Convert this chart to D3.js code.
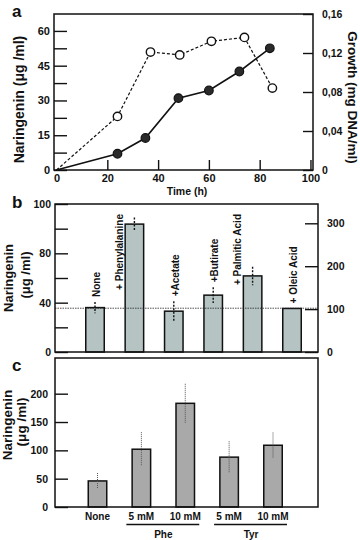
<!DOCTYPE html>
<html>
<head>
<meta charset="utf-8">
<script src="https://cdn.jsdelivr.net/npm/d3@7"></script>
<style>
body { margin: 0; background: #fff; }
svg text { font-family: "Liberation Sans", Arial, Helvetica, sans-serif; font-weight: bold; fill: #111; }
</style>
</head>
<body>
<div id="chart"></div>
<script>
// panel a - time course
var timeH = [0, 24, 35, 48, 60, 72, 84];
var naringenin = [0, 7, 13.8, 31, 34.3, 42.5, 52.5];
var growthTimeH = [0, 24, 37, 48.5, 61, 74, 85];
var growth = [0, 0.055, 0.121, 0.118, 0.132, 0.136, 0.084];
var timeTicks = [0, 20, 40, 60, 80, 100];
var narTicksA = [0, 15, 30, 45, 60];
var growthTicks = [0, 0.04, 0.08, 0.12, 0.16];

// panel b - supplements
var supplements = ["None", "+ Phenylalanine", "+Acetate", "+Butirate", "+ Palmitic Acid", "+ Oleic Acid"];
var supNaringenin = [36, 103.7, 33.1, 46.1, 61.7, 35.3];
var supError = [4.5, 5.4, 8, 6.3, 7.5, 0];
var controlLevel = 35.5;
var narTicksB = [0, 40, 80, 120];
var narTickLabelsB = ["0", "40", "80", "100"];
var percentTicks = [0, 100, 200, 300];

// panel c - amino acid doses
var doses = ["None", "5 mM", "10 mM", "5 mM", "10 mM"];
var doseNaringenin = [46, 102, 183, 88, 109];
var doseError = [14, 30, 34.5, 28, 22.5];
var doseGroups = [{name: "Phe", first: 1, last: 2}, {name: "Tyr", first: 3, last: 4}];
var narTicksC = [0, 50, 100, 150, 200];

var svg = d3.select("#chart").append("svg")
    .attr("width", 360)
    .attr("height", 540);

function frame(x0, y0, x1, y1) {
    svg.append("rect")
        .attr("x", x0).attr("y", y0)
        .attr("width", x1 - x0).attr("height", y1 - y0)
        .attr("fill", "none")
        .attr("stroke", "#111")
        .attr("stroke-width", 1.5);
}

function styleAxis(g, size) {
    g.select(".domain").remove();
    g.selectAll(".tick line").attr("stroke", "#111").attr("stroke-width", 1.4);
    g.selectAll("text").style("font-size", size + "px").attr("fill", "#111");
}

function panelLetter(t, x, y) {
    svg.append("text").attr("x", x).attr("y", y)
        .style("font-size", "17px").text(t);
}

function yLabel(lines, y, size) {
    lines.forEach(function(l, i) {
        svg.append("text")
            .attr("transform", "translate(" + l.x + "," + y[i] + ")rotate(-90)")
            .attr("text-anchor", "middle")
            .style("font-size", size + "px")
            .text(l.t);
    });
}

// ---------- panel a ----------
var aL = 54, aR = 313, aTop = 14, aBot = 170;
var xa = d3.scaleLinear().domain([-1, 101]).range([aL, aR]);
var ya = d3.scaleLinear().domain([0, 67.3]).range([aBot, aTop]);
var ga = d3.scaleLinear().domain([0, 0.16]).range([aBot, aTop]);

frame(aL, aTop, aR, aBot);

var axA = svg.append("g")
    .attr("transform", "translate(" + aL + ",0)")
    .call(d3.axisLeft(ya)
        .tickValues(d3.range(0, 61, 7.5))
        .tickSize(-13)
        .tickPadding(4)
        .tickFormat(function(d) { return d % 15 === 0 ? d : ""; }));
styleAxis(axA, 11);

var axG = svg.append("g")
    .attr("transform", "translate(" + aR + ",0)")
    .call(d3.axisRight(ga)
        .tickValues(growthTicks)
        .tickSize(-10)
        .tickPadding(9)
        .tickFormat(function(d) { return d === 0 ? "0" : d3.format(".2f")(d).replace(".", ","); }));
styleAxis(axG, 10.5);

var axT = svg.append("g")
    .attr("transform", "translate(0," + aBot + ")")
    .call(d3.axisBottom(xa)
        .tickValues(timeTicks)
        .tickSize(-10)
        .tickPadding(4));
styleAxis(axT, 11);
axT.selectAll(".tick").filter(function(d) { return d === 0; }).select("line").remove();

svg.append("text")
    .attr("x", 187).attr("y", 195)
    .attr("text-anchor", "middle")
    .style("font-size", "10.5px")
    .text("Time (h)");

yLabel([{t: "Naringenin (\u03bcg /ml)", x: 24}], [99.5], 14);

svg.append("text")
    .attr("transform", "translate(348,97.5)rotate(90)")
    .attr("text-anchor", "middle")
    .style("font-size", "13.5px")
    .text("Growth (mg DNA/ml)");

var idxA = d3.range(timeH.length);

svg.append("path")
    .datum(idxA)
    .attr("fill", "none")
    .attr("stroke", "#111")
    .attr("stroke-width", 1.2)
    .attr("stroke-dasharray", "3,2")
    .attr("d", d3.line()
        .x(function(i) { return xa(growthTimeH[i]); })
        .y(function(i) { return ga(growth[i]); }));

svg.append("path")
    .datum(idxA)
    .attr("fill", "none")
    .attr("stroke", "#111")
    .attr("stroke-width", 1.6)
    .attr("d", d3.line()
        .x(function(i) { return xa(timeH[i]); })
        .y(function(i) { return ya(naringenin[i]); }));

svg.selectAll(".openDot")
    .data(idxA.slice(1))
    .enter().append("circle")
    .attr("class", "openDot")
    .attr("cx", function(i) { return xa(growthTimeH[i]); })
    .attr("cy", function(i) { return ga(growth[i]); })
    .attr("r", 4.2)
    .attr("fill", "#fff")
    .attr("stroke", "#111")
    .attr("stroke-width", 1.4);

svg.selectAll(".fullDot")
    .data(idxA.slice(1))
    .enter().append("circle")
    .attr("class", "fullDot")
    .attr("cx", function(i) { return xa(timeH[i]); })
    .attr("cy", function(i) { return ya(naringenin[i]); })
    .attr("r", 4.3)
    .attr("fill", "#2a2a2a")
    .attr("stroke", "#111")
    .attr("stroke-width", 1.2);

panelLetter("a", 12, 17);

// ---------- panel b ----------
var bL = 55, bR = 318, bTop = 204, bBot = 352;
var yb = d3.scaleLinear().domain([0, 120]).range([bBot, bTop]);
var pb = d3.scaleLinear().domain([0, 345]).range([bBot, bTop]);
var xb = d3.scalePoint().domain(d3.range(supplements.length)).range([95, 292]);
var barW = 18.5;

var axB = svg.append("g")
    .attr("transform", "translate(" + bL + ",0)")
    .call(d3.axisLeft(yb)
        .tickValues(d3.range(0, 121, 20))
        .tickSize(-13)
        .tickPadding(4)
        .tickFormat(function(d) {
            var k = narTicksB.indexOf(d);
            return k < 0 ? "" : narTickLabelsB[k];
        }));
styleAxis(axB, 10.5);

var axP = svg.append("g")
    .attr("transform", "translate(" + bR + ",0)")
    .call(d3.axisRight(pb)
        .tickValues(percentTicks)
        .tickSize(-13)
        .tickPadding(9));
styleAxis(axP, 10.5);

svg.selectAll(".barB")
    .data(d3.range(supplements.length))
    .enter().append("rect")
    .attr("class", "barB")
    .attr("x", function(i) { return xb(i) - barW / 2; })
    .attr("y", function(i) { return yb(supNaringenin[i]); })
    .attr("width", barW)
    .attr("height", function(i) { return bBot - yb(supNaringenin[i]); })
    .attr("fill", "#b5c3c3")
    .attr("stroke", "#111")
    .attr("stroke-width", 1.5);

svg.append("line")
    .attr("x1", bL).attr("x2", bR)
    .attr("y1", yb(controlLevel)).attr("y2", yb(controlLevel))
    .attr("stroke", "#222")
    .attr("stroke-width", 0.8)
    .attr("stroke-dasharray", "1.5,1");

svg.selectAll(".errB")
    .data(d3.range(supplements.length).filter(function(i) { return supError[i] > 0; }))
    .enter().append("line")
    .attr("class", "errB")
    .attr("x1", function(i) { return xb(i); })
    .attr("x2", function(i) { return xb(i); })
    .attr("y1", function(i) { return yb(supNaringenin[i] + supError[i]); })
    .attr("y2", function(i) { return yb(supNaringenin[i] - supError[i]); })
    .attr("stroke", "#111")
    .attr("stroke-width", 1.4)
    .attr("stroke-dasharray", "2,1.5");

// rotated labels: above the bar when it fits, otherwise beside it
svg.selectAll(".labB")
    .data(d3.range(supplements.length))
    .enter().append("text")
    .attr("class", "labB")
    .style("font-size", "10px")
    .attr("dy", "0.35em")
    .text(function(i) { return supplements[i]; })
    .each(function(i) {
        var len = this.getComputedTextLength();
        var bottom = yb(supNaringenin[i] + supError[i]) - 5;
        var t = d3.select(this);
        if (bottom - len > bTop + 4) {
            t.attr("text-anchor", "start")
                .attr("transform", "translate(" + (xb(i) + 1.5) + "," + bottom + ")rotate(-90)");
        } else {
            t.attr("text-anchor", "end")
                .attr("transform", "translate(" + (xb(i) - barW / 2 - 6) + "," + (bTop + 10) + ")rotate(-90)");
        }
    });

frame(bL, bTop, bR, bBot);

yLabel([{t: "Naringenin", x: 13}, {t: "(\u03bcg /ml)", x: 29.5}], [278, 275], 13);
panelLetter("b", 12, 208);

// ---------- panel c ----------
var cL = 55, cR = 318, cTop = 358, cBot = 507;
var yc = d3.scaleLinear().domain([0, 263]).range([cBot, cTop]);
var xc = d3.scalePoint().domain(d3.range(doses.length)).range([97.5, 273]);

var axC = svg.append("g")
    .attr("transform", "translate(" + cL + ",0)")
    .call(d3.axisLeft(yc)
        .tickValues(narTicksC)
        .tickSize(-13)
        .tickPadding(7));
styleAxis(axC, 10.5);

svg.selectAll(".barC")
    .data(d3.range(doses.length))
    .enter().append("rect")
    .attr("class", "barC")
    .attr("x", function(i) { return xc(i) - barW / 2; })
    .attr("y", function(i) { return yc(doseNaringenin[i]); })
    .attr("width", barW)
    .attr("height", function(i) { return cBot - yc(doseNaringenin[i]); })
    .attr("fill", "#a9a9a9")
    .attr("stroke", "#111")
    .attr("stroke-width", 1.5);

svg.selectAll(".errC")
    .data(d3.range(doses.length))
    .enter().append("line")
    .attr("class", "errC")
    .attr("x1", function(i) { return xc(i); })
    .attr("x2", function(i) { return xc(i); })
    .attr("y1", function(i) { return yc(doseNaringenin[i] + doseError[i]); })
    .attr("y2", function(i) { return yc(doseNaringenin[i] - doseError[i]); })
    .attr("stroke", "#555")
    .attr("stroke-width", 1)
    .attr("stroke-dasharray", "1,1");

frame(cL, cTop, cR, cBot);

svg.selectAll(".labC")
    .data(d3.range(doses.length))
    .enter().append("text")
    .attr("class", "labC")
    .attr("x", function(i) { return xc(i); })
    .attr("y", 520)
    .attr("text-anchor", "middle")
    .style("font-size", "10px")
    .text(function(i) { return doses[i]; });

doseGroups.forEach(function(g) {
    svg.append("line")
        .attr("x1", xc(g.first) - 15).attr("x2", xc(g.last) + 14)
        .attr("y1", 524.5).attr("y2", 524.5)
        .attr("stroke", "#111")
        .attr("stroke-width", 1.3);
    svg.append("text")
        .attr("x", (xc(g.first) + xc(g.last)) / 2)
        .attr("y", 538)
        .attr("text-anchor", "middle")
        .style("font-size", "10px")
        .text(g.name);
});

yLabel([{t: "Naringenin", x: 11.5}, {t: "(\u03bcg /ml)", x: 26}], [425, 422], 13.5);
panelLetter("c", 12, 371);
</script>
</body>
</html>
